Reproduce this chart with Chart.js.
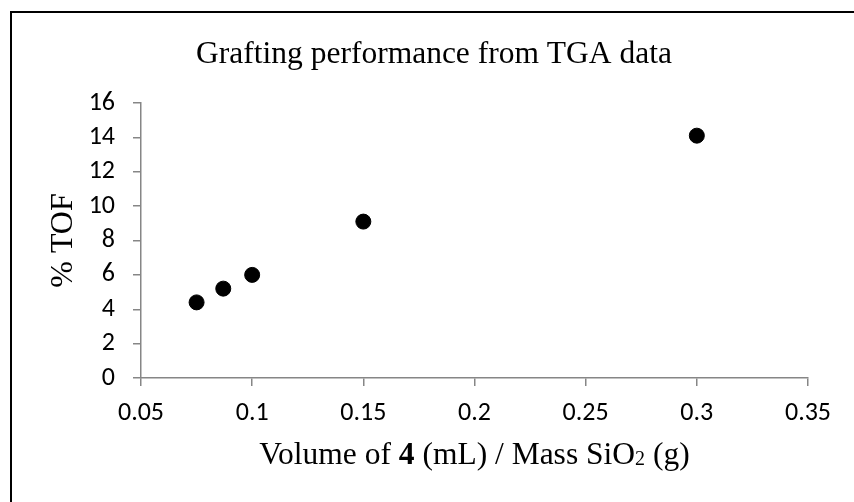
<!DOCTYPE html>
<html lang="en">
<head>
  <meta charset="UTF-8" />
  <title>Grafting performance from TGA data</title>
  <style>
    html, body { margin: 0; padding: 0; background: #ffffff; }
    #wrap { width: 854px; height: 502px; position: relative; }
  </style>
</head>
<body>
  <div id="wrap"><canvas id="graftChart" width="854" height="502"></canvas></div>
  <script src="https://cdn.jsdelivr.net/npm/chart.js"></script>
  <script>
    // values
    const volumeRatio = [0.075, 0.087, 0.1, 0.15, 0.3];
    const tofPercent = [4.4, 5.2, 6.0, 9.1, 14.1];
    const xTicks = [0.05, 0.1, 0.15, 0.2, 0.25, 0.3, 0.35];
    const yTicks = [0, 2, 4, 6, 8, 10, 12, 14, 16];

    const titleText = 'Grafting performance from TGA data';
    const yTitleText = '% TOF';
    // x title has a bold "4" and a small "2", so it is drawn in pieces
    const xTitleParts = [
      { text: 'Volume of ', style: 'normal' },
      { text: '4', style: 'bold' },
      { text: ' (mL) / Mass SiO', style: 'normal' },
      { text: '2', style: 'small' },
      { text: ' (g)', style: 'normal' }
    ];

    const serif = '"Liberation Serif", "Times New Roman", serif';
    const tickFont = { family: 'Carlito, Lato, "Liberation Sans", sans-serif', size: 26 };
    const axisGray = '#868686';

    const points = volumeRatio.map((x, i) => ({ x: x, y: tofPercent[i] }));

    const frameAndTitles = {
      id: 'frameAndTitles',
      beforeDraw(chart) {
        const c = chart.ctx;
        c.save();
        c.strokeStyle = '#000';
        c.lineWidth = 2;
        c.beginPath();
        c.moveTo(11, 502);
        c.lineTo(11, 12);
        c.lineTo(854, 12);
        c.stroke();
        c.restore();
      },
      afterDraw(chart) {
        const c = chart.ctx;
        const area = chart.chartArea;
        c.save();
        c.fillStyle = '#000';
        c.textBaseline = 'alphabetic';

        // chart title
        c.font = '31.5px ' + serif;
        c.textAlign = 'center';
        c.fillText(titleText, 434, 63);

        // x axis title
        const fonts = {
          normal: '31.5px ' + serif,
          bold: 'bold 31.5px ' + serif,
          small: '20px ' + serif
        };
        c.textAlign = 'left';
        let total = 0;
        xTitleParts.forEach(p => { c.font = fonts[p.style]; total += c.measureText(p.text).width; });
        let x = (area.left + area.right) / 2 - total / 2;
        const base = 464;
        xTitleParts.forEach(p => {
          c.font = fonts[p.style];
          c.fillText(p.text, x, p.style === 'small' ? base + 1 : base);
          x += c.measureText(p.text).width;
        });
        c.restore();
      }
    };

    new Chart(document.getElementById('graftChart').getContext('2d'), {
      type: 'scatter',
      data: {
        datasets: [{
          label: '% TOF',
          data: points,
          backgroundColor: '#000',
          borderColor: '#000',
          pointRadius: 7.5,
          pointHoverRadius: 7.5
        }]
      },
      options: {
        responsive: false,
        animation: false,
        layout: { padding: { left: 0, right: 46, top: 103, bottom: 0 } },
        plugins: {
          legend: { display: false },
          tooltip: { enabled: false },
          title: { display: false }
        },
        scales: {
          x: {
            type: 'linear',
            min: xTicks[0],
            max: xTicks[xTicks.length - 1],
            afterBuildTicks: s => { s.ticks = xTicks.map(v => ({ value: v })); },
            afterFit: s => { s.height = 124; },
            border: { color: axisGray, width: 1.5 },
            grid: { drawOnChartArea: false, drawTicks: true, tickLength: 8, color: axisGray, lineWidth: 1.5 },
            ticks: {
              color: '#000',
              font: tickFont,
              padding: 12,
              maxRotation: 0,
              callback: v => String(+v.toFixed(2))
            }
          },
          y: {
            type: 'linear',
            min: yTicks[0],
            max: yTicks[yTicks.length - 1],
            afterBuildTicks: s => { s.ticks = yTicks.map(v => ({ value: v })); },
            afterFit: s => { s.width = 141; },
            border: { color: axisGray, width: 1.5 },
            grid: { drawOnChartArea: false, drawTicks: true, tickLength: 8, color: axisGray, lineWidth: 1.5 },
            ticks: { color: '#000', font: tickFont, padding: 18 },
            title: {
              display: true,
              text: yTitleText,
              color: '#000',
              font: { family: serif, size: 32 },
              padding: { top: 44, bottom: 0 }
            }
          }
        }
      },
      plugins: [frameAndTitles]
    });
  </script>
</body>
</html>
